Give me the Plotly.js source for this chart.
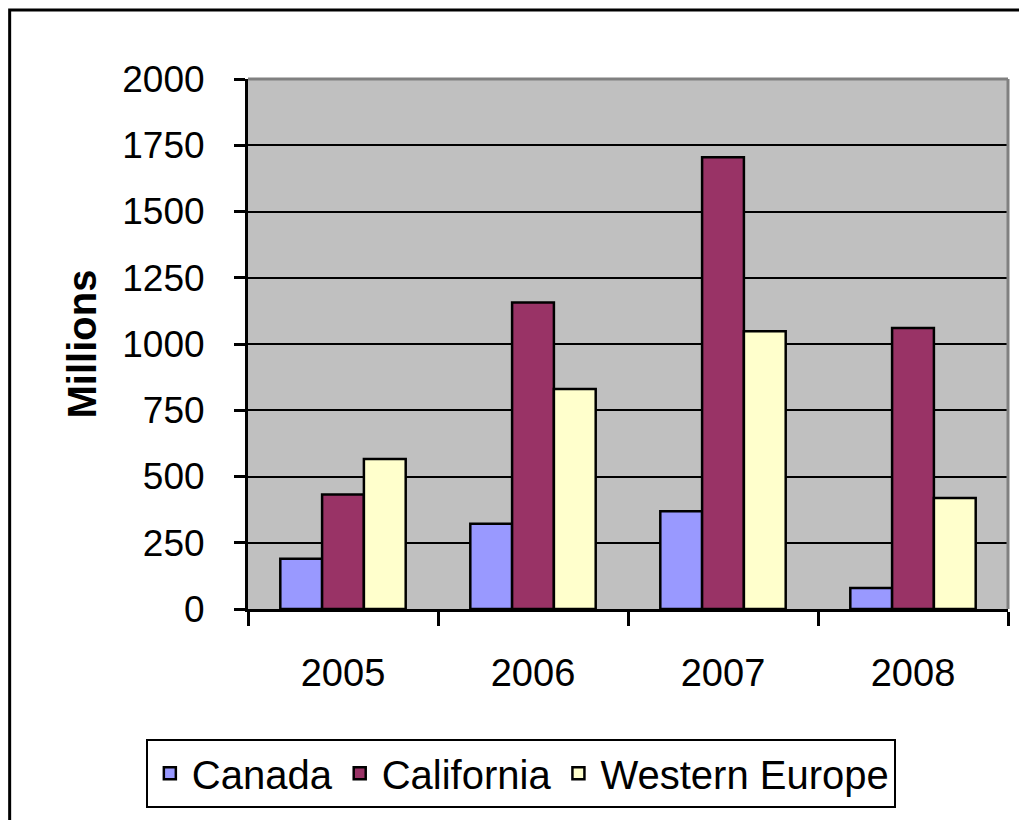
<!DOCTYPE html>
<html>
<head>
<meta charset="utf-8">
<script src="https://cdn.plot.ly/plotly-3.0.1.min.js"></script>
<style>
  html, body { margin: 0; padding: 0; background: #fff; overflow: hidden; }
  #chart { width: 1019px; height: 820px; }
</style>
</head>
<body>
<div id="chart"></div>
<script>
const years = ['2005', '2006', '2007', '2008'];
const canada = [190, 322, 369, 79];
const california = [432, 1157, 1705, 1060];
const westernEurope = [566, 830, 1048, 419];
const seriesNames = ['Canada', 'California', 'Western Europe'];
const seriesColors = ['#9999FF', '#993366', '#FFFFCC'];
const yTicks = [0, 250, 500, 750, 1000, 1250, 1500, 1750, 2000];

const font = 'Arial, "Liberation Sans", sans-serif';
const seriesValues = [canada, california, westernEurope];

const traces = seriesValues.map((vals, i) => ({
  type: 'bar',
  name: seriesNames[i],
  x: years,
  y: vals,
  marker: { color: seriesColors[i], line: { color: '#000', width: 2.5 } },
  hoverinfo: 'x+y+name'
}));

const layout = {
  width: 1019,
  height: 820,
  margin: { l: 248, r: 11, t: 79, b: 211, autoexpand: false },
  paper_bgcolor: '#ffffff',
  plot_bgcolor: '#C0C0C0',
  barmode: 'group',
  bargap: 0.34,
  bargroupgap: 0,
  font: { family: font, color: '#000', size: 37 },
  xaxis: {
    type: 'category',
    showgrid: false,
    showline: true,
    linecolor: '#000',
    linewidth: 3,
    ticks: 'outside',
    tickson: 'boundaries',
    ticklen: 14,
    tickwidth: 3,
    tickcolor: '#000',
    tickfont: { family: font, size: 38, color: '#000' },
    ticklabelstandoff: 28,
    zeroline: false
  },
  yaxis: {
    range: [0, 2000],
    tickvals: yTicks,
    ticktext: yTicks.map(String),
    showgrid: true,
    gridcolor: '#000',
    gridwidth: 2,
    showline: true,
    linecolor: '#000',
    linewidth: 3,
    ticks: 'outside',
    ticklen: 11,
    tickwidth: 3,
    tickcolor: '#000',
    tickfont: { family: font, size: 37, color: '#000' },
    ticklabelstandoff: 22,
    zeroline: false,
    title: {
      text: '<b>Millions</b>',
      font: { family: font, size: 40, color: '#000' },
      standoff: 14
    }
  },
  showlegend: true,
  legend: {
    orientation: 'h',
    x: 0.359,
    xanchor: 'center',
    y: -0.245,
    yanchor: 'top',
    bordercolor: '#000',
    borderwidth: 2,
    bgcolor: '#fff',
    font: { family: font, size: 40, color: '#000' },
    itemwidth: 34,
    tracegroupgap: 0
  },
  shapes: [
    { type: 'line', xref: 'paper', yref: 'paper', x0: 0, x1: 1, y0: 1, y1: 1,
      line: { color: '#808080', width: 3 } },
    { type: 'line', xref: 'paper', yref: 'paper', x0: 1, x1: 1, y0: 0, y1: 1,
      line: { color: '#808080', width: 3 } },
    { type: 'rect', xref: 'paper', yref: 'paper', x0: -0.3136, x1: 1.1, y0: -0.6, y1: 1.1302,
      line: { color: '#000', width: 3 }, layer: 'below' }
  ]
};

Plotly.newPlot('chart', traces, layout, { displayModeBar: false, staticPlot: true });
</script>
</body>
</html>
